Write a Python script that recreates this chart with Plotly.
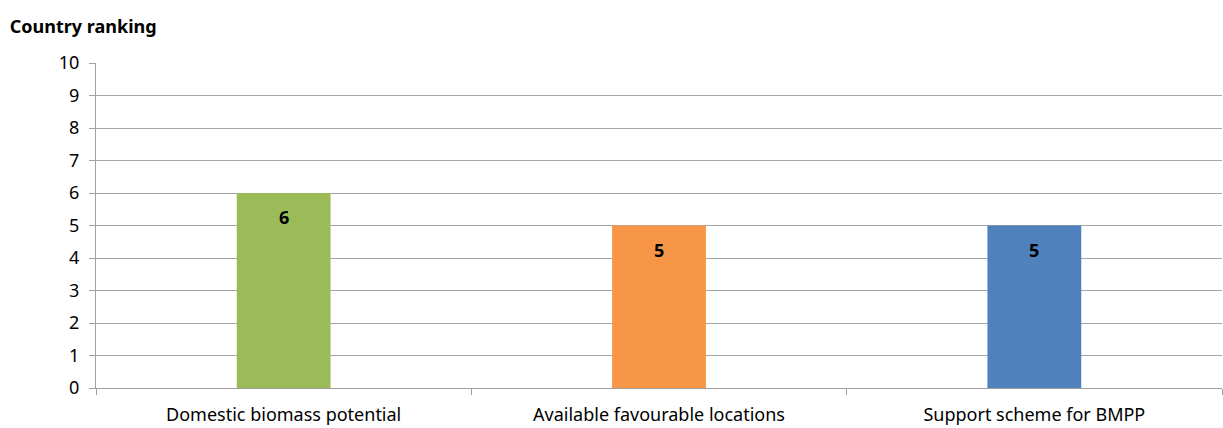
import plotly.graph_objects as go

categories = ["Domestic biomass potential", "Available favourable locations", "Support scheme for BMPP"]
values = [6, 5, 5]
colors = ["#9BBB59", "#F79646", "#4F81BD"]
y_ticks = list(range(0, 11))
title_text = "Country ranking"

FONT = "Noto Sans, Open Sans, Liberation Sans, sans-serif"

fig = go.Figure()
fig.add_trace(go.Bar(
    x=categories, y=values, marker=dict(color=colors, line=dict(width=0)),
    showlegend=False, hoverinfo="x+y",
))
for c, v in zip(categories, values):
    fig.add_annotation(x=c, y=v, text=f"<b>{v}</b>", showarrow=False,
                       yshift=-24, font=dict(size=18, color="#000000", family=FONT))

fig.update_layout(
    width=1223, height=428,
    margin=dict(l=96, r=1, t=63, b=40),
    paper_bgcolor="white", plot_bgcolor="white",
    bargap=0.75,
    font=dict(family=FONT, size=17, color="#000000"),
    title=dict(text=f"<b>{title_text}</b>", x=0.008, xanchor="left", y=0.937, yanchor="middle",
               font=dict(size=18, family=FONT, color="#000000")),
)
fig.update_xaxes(
    type="category", tickson="boundaries", ticks="outside", ticklen=6,
    tickcolor="#A0A0A0", showline=True, linecolor="#A0A0A0", linewidth=1,
    showgrid=False, tickfont=dict(size=18, family=FONT), ticklabelstandoff=10,
)
fig.update_yaxes(
    range=[0, 10], tickvals=y_ticks, ticks="outside", ticklen=6, tickcolor="#A0A0A0",
    showline=True, linecolor="#A0A0A0", linewidth=1,
    showgrid=True, gridcolor="#A6A6A6", gridwidth=1, zeroline=False,
    tickfont=dict(size=18, family=FONT), ticklabelstandoff=6,
)

fig.write_html("out.html")
